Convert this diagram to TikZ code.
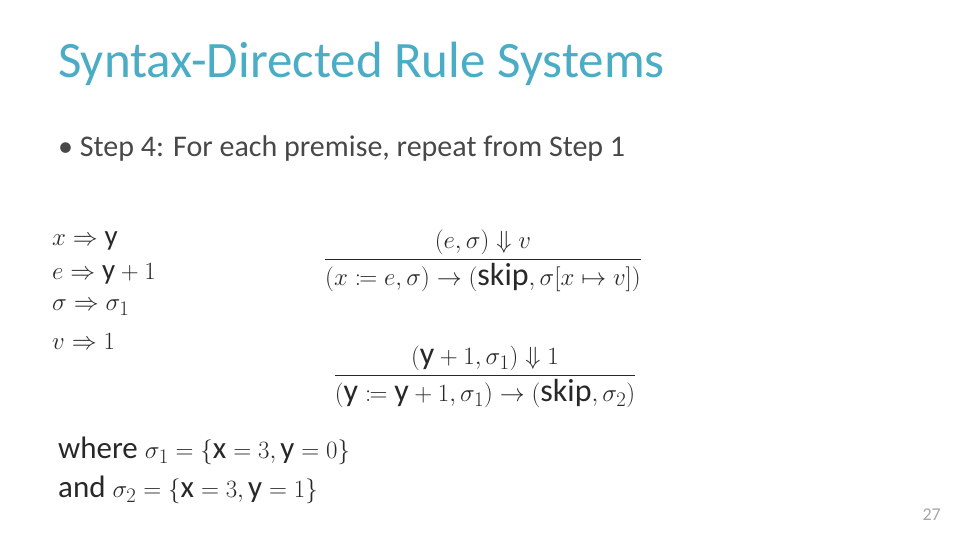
\documentclass[tikz,border=0pt]{standalone}
\usepackage{amsmath,amssymb,mathtools}
\usepackage{fontspec}
\setmainfont{Carlito}
\definecolor{ttl}{RGB}{75,172,198}
\definecolor{txt}{RGB}{40,40,40}
\begin{document}
\begin{tikzpicture}[x=1pt,y=-1pt,
  t/.style={anchor=west,inner sep=0,text=txt},
  m/.style={inner sep=0,text=txt,font=\fontsize{32}{38}\selectfont},
  s/.style={anchor=west,inner sep=0,text=txt,font=\fontsize{29}{34}\selectfont}]
\useasboundingbox (0,0) rectangle (960,540);
\node[anchor=west,inner sep=0,text=ttl,font=\fontsize{51}{58}\selectfont] (title) at (58,64) {Syntax-Directed Rule Systems};
\node[t,font=\fontsize{30}{34}\selectfont,text=txt!85] (b) at (58,149) {\textbullet\ Step 4: For each premise, repeat from Step 1};
\node[s] (s1) at (52,241) {$x\Rightarrow \mathrm{y}$};
\node[s] (s2) at (52,274) {$e\Rightarrow \mathrm{y}+1$};
\node[s] (s3) at (52,308) {$\sigma\Rightarrow \sigma_1$};
\node[s] (s4) at (52,341) {$v\Rightarrow 1$};
\node[m] (f1) at (483,261) {$\dfrac{(e,\sigma)\Downarrow v}{(x\coloneqq e,\sigma)\rightarrow(\mathrm{skip},\sigma[x\mapsto v])}$};
\node[m] (f2) at (485,377) {$\dfrac{(\mathrm{y}+1,\sigma_1)\Downarrow 1}{(\mathrm{y}\coloneqq \mathrm{y}+1,\sigma_1)\rightarrow(\mathrm{skip},\sigma_2)}$};
\node[t,font=\fontsize{31}{36}\selectfont] (w1) at (58,451) {where $\sigma_1=\{\mathrm{x}=3,\mathrm{y}=0\}$};
\node[t,font=\fontsize{31}{36}\selectfont] (w2) at (58,490) {and $\sigma_2=\{\mathrm{x}=3,\mathrm{y}=1\}$};
\node[anchor=east,inner sep=0,text=gray!70,font=\fontsize{18}{20}\selectfont] (pg) at (941,515) {27};
\end{tikzpicture}
\end{document}
